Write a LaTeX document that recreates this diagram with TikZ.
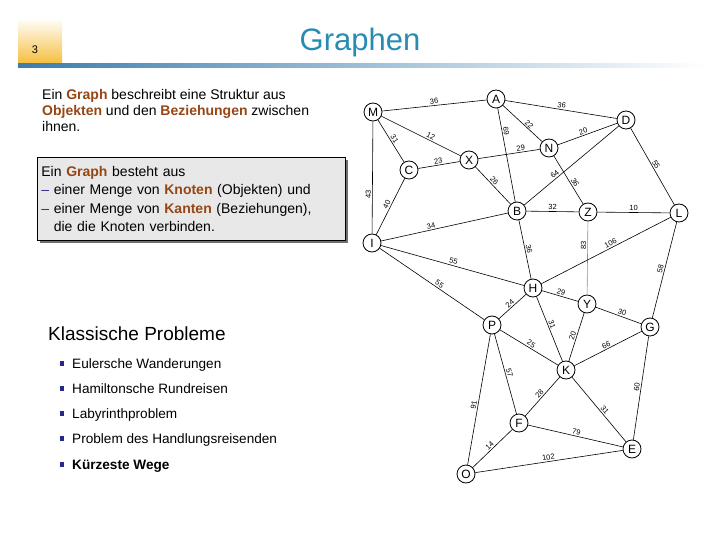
\documentclass[tikz,border=0pt]{standalone}
\usepackage{fontspec}
\setmainfont{Liberation Sans}
\usetikzlibrary{shadows}

\definecolor{titelblau}{RGB}{38,140,178}
\definecolor{braun}{RGB}{150,70,20}
\definecolor{balken}{RGB}{60,125,175}
\definecolor{kastengrau}{RGB}{232,232,232}
\definecolor{punktblau}{RGB}{40,40,140}
\definecolor{gold}{RGB}{245,190,60}

\newcommand{\hl}[1]{\textbf{\color{braun}#1}}
\newcommand{\strich}{{\color{punktblau}–}}

\begin{document}
\begin{tikzpicture}[x=1pt,y=-1pt,
    knoten/.style={circle, draw, line width=0.8pt, fill=white, minimum size=18pt, inner sep=0pt, font=\fontsize{12}{12}\selectfont},
    gewicht/.style={font=\fontsize{7.5}{7.5}\selectfont, sloped, above, inner sep=1.2pt},
    kante/.style={line width=0.6pt},
    punkt/.style={fill=punktblau, minimum size=4.5pt, inner sep=0pt},
    eintrag/.style={anchor=base west, inner sep=0pt, font=\fontsize{13.6}{15}\selectfont}]
    \useasboundingbox (0,0) rectangle (720,540);

    % Kopf
    \shade[top color=white, bottom color=gold] (18,18) rectangle (62,64);
    \shade[left color=balken, right color=white] (18,64) rectangle (705,68);
    \node[anchor=base, font=\fontsize{11}{11}\selectfont] (seite) at (35,54) {3};
    \node[anchor=base, text=titelblau, font=\fontsize{31}{31}\selectfont] (titel) at (360,51) {Graphen};

    % Text links
    \node[anchor=north west, inner sep=0pt, align=left, font=\fontsize{14}{16}\selectfont] (intro) at (42,89)
        {Ein \hl{Graph} beschreibt eine Struktur aus\\ \hl{Objekten} und den \hl{Beziehungen} zwischen\\ ihnen.};
    \node[anchor=north west, draw, line width=0.8pt, fill=kastengrau, minimum width=306pt, minimum height=83pt,
          text width=300pt, inner xsep=4pt, align=left, font=\fontsize{14}{18.5}\selectfont,
          drop shadow={shadow xshift=3pt, shadow yshift=-3pt, fill=black!70, opacity=0.8}] (kasten) at (37,157)
        {Ein \hl{Graph} besteht aus\\ \strich{} einer Menge von \hl{Knoten} (Objekten) und\\ \strich{} einer Menge von \hl{Kanten} (Beziehungen),\\ \phantom{– }die die Knoten verbinden.};

    % Klassische Probleme
    \node[anchor=base west, inner sep=0pt, font=\fontsize{19}{19}\selectfont] (probleme) at (48,340) {Klassische Probleme};
    \foreach \y/\txt [count=\i] in {368/Eulersche Wanderungen, 393/Hamiltonsche Rundreisen, 418/Labyrinthproblem,
                                    443/Problem des Handlungsreisenden, 469/\textbf{Kürzeste Wege}} {
        \node[punkt] (p\i) at (62,\y-4.5) {};
        \node[eintrag] (e\i) at (72,\y) {\txt};
    }

    % Knoten
    \node[knoten] (M) at (373,112) {M};
    \node[knoten] (A) at (496,99) {A};
    \node[knoten] (D) at (626,120) {D};
    \node[knoten] (N) at (549,148) {N};
    \node[knoten] (X) at (469,160) {X};
    \node[knoten] (C) at (409,170) {C};
    \node[knoten] (B) at (517,211) {B};
    \node[knoten] (Z) at (588,212) {Z};
    \node[knoten] (L) at (679,213) {L};
    \node[knoten] (I) at (372,243) {I};
    \node[knoten] (H) at (533,288) {H};
    \node[knoten] (Y) at (587,304) {Y};
    \node[knoten] (P) at (492,325) {P};
    \node[knoten] (G) at (650,327) {G};
    \node[knoten] (K) at (566,370) {K};
    \node[knoten] (F) at (519,423) {F};
    \node[knoten] (E) at (632,449) {E};
    \node[knoten] (O) at (466,474) {O};

    % Kanten mit Gewichten
    \draw[kante] (M) -- node[gewicht] {36} (A);
    \draw[kante] (A) -- node[gewicht] {36} (D);
    \draw[kante] (M) -- node[gewicht, pos=0.6] {12} (X);
    \draw[kante] (M) -- node[gewicht] {31} (C);
    \draw[kante] (I) -- node[gewicht, pos=0.35] {43} (M);
    \draw[kante] (C) -- node[gewicht] {23} (X);
    \draw[kante] (A) -- node[gewicht, pos=0.25] {69} (B);
    \draw[kante] (A) -- node[gewicht, pos=0.6] {22} (N);
    \draw[kante] (X) -- node[gewicht, pos=0.7] {29} (N);
    \draw[kante] (X) -- node[gewicht, pos=0.45] {26} (B);
    \draw[kante] (N) -- node[gewicht, pos=0.45] {20} (D);
    \draw[kante] (N) -- node[gewicht, pos=0.6] {36} (Z);
    \draw[kante] (B) -- node[gewicht, pos=0.35] {64} (D);
    \draw[kante] (D) -- node[gewicht] {55} (L);
    \draw[kante] (B) -- node[gewicht] {32} (Z);
    \draw[kante] (Z) -- node[gewicht] {10} (L);
    \draw[kante] (C) -- node[gewicht] {40} (I);
    \draw[kante] (I) -- node[gewicht, pos=0.4] {34} (B);
    \draw[kante] (I) -- node[gewicht] {55} (H);
    \draw[kante] (I) -- node[gewicht, pos=0.55] {55} (P);
    \draw[kante] (B) -- node[gewicht] {36} (H);
    \draw[kante, black!45] (Y) -- node[gewicht, text=black, pos=0.67] {83} (Z);
    \draw[kante] (H) -- node[gewicht, pos=0.55] {106} (L);
    \draw[kante] (H) -- node[gewicht] {29} (Y);
    \draw[kante] (Y) -- node[gewicht, pos=0.55] {30} (G);
    \draw[kante] (L) -- node[gewicht] {58} (G);
    \draw[kante] (H) -- node[gewicht] {24} (P);
    \draw[kante] (H) -- node[gewicht, pos=0.45] {31} (K);
    \draw[kante] (Y) -- node[gewicht] {20} (K);
    \draw[kante] (P) -- node[gewicht] {25} (K);
    \draw[kante] (K) -- node[gewicht] {66} (G);
    \draw[kante] (P) -- node[gewicht] {57} (F);
    \draw[kante] (P) -- node[gewicht, pos=0.55] {91} (O);
    \draw[kante] (K) -- node[gewicht] {28} (F);
    \draw[kante] (K) -- node[gewicht, pos=0.55] {31} (E);
    \draw[kante] (G) -- node[gewicht] {60} (E);
    \draw[kante] (F) -- node[gewicht] {79} (E);
    \draw[kante] (O) -- node[gewicht] {14} (F);
    \draw[kante] (O) -- node[gewicht] {102} (E);
\end{tikzpicture}
\end{document}
